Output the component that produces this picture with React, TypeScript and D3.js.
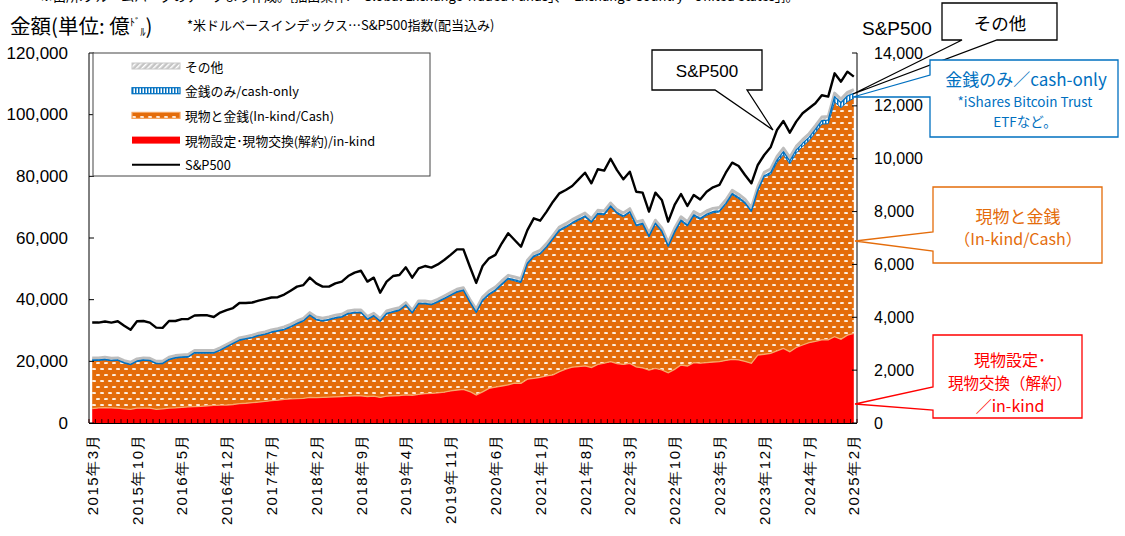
import React from "react";
import * as d3 from "d3";

// ---------- data (億ドル / S&P500 index) ----------
const xTickLabels = [
  "2015年3月", "2015年10月", "2016年5月", "2016年12月", "2017年7月", "2018年2月",
  "2018年9月", "2019年4月", "2019年11月", "2020年6月", "2021年1月", "2021年8月",
  "2022年3月", "2022年10月", "2023年5月", "2023年12月", "2024年7月", "2025年2月",
];
const leftTicks = [0, 20000, 40000, 60000, 80000, 100000, 120000];
const rightTicks = [0, 2000, 4000, 6000, 8000, 10000, 12000, 14000];

const inKind = [
  4650, 4900, 4975, 4900, 4800, 4600, 4430, 4800, 4850, 4800,
  4430, 4600, 4850, 4900, 5100, 5200, 5300, 5400, 5600, 5700,
  5800, 5840, 6000, 6300, 6400, 6600, 6800, 7000, 7240, 7400,
  7700, 7800, 7900, 8000, 8300, 8200, 8300, 8400, 8500, 8600,
  8700, 8800, 8800, 8600, 8700, 8300, 8700, 8800, 8900, 9100,
  9000, 9300, 9500, 9600, 9800, 10000, 10400, 10700, 10900, 10200,
  9100, 10100, 11240, 11600, 12000, 12400, 12900, 12900, 14200, 14500,
  14800, 15300, 15600, 16650, 17500, 18100, 18300, 18500, 18000, 19000,
  19400, 19900, 19300, 19000, 19350, 18200, 17900, 17200, 17700, 17200,
  16300, 17400, 18800, 18500, 19570, 19400, 19600, 19780, 19900, 20300,
  20650, 20500, 20000, 19350, 22050, 22300, 22600, 23400, 24210, 23130,
  24500, 25300, 26050, 26500, 27000, 27000, 28000, 27130, 28500, 29080,
];
const inKindCash = [
  15630, 15380, 15525, 15270, 15480, 14820, 14450, 15160, 15430, 15370,
  14770, 14600, 15650, 16140, 16150, 16160, 17360, 17260, 17060, 16960,
  17720, 18760, 19690, 20470, 20800, 21030, 21480, 21710, 22120, 22390,
  22500, 23240, 24220, 24990, 26520, 25220, 24690, 25020, 25460, 25680,
  26670, 26890, 26890, 24930, 25910, 24580, 26670, 27110, 27550, 28970,
  26580, 29310, 29100, 28700, 29350, 30230, 30910, 31690, 32030, 28950,
  26600, 29490, 30300, 31230, 32780, 34220, 33180, 32640, 37300, 39360,
  39920, 41590, 43990, 45640, 45870, 46570, 47450, 48330, 46990, 48700,
  48080, 50170, 48610, 47830, 48890, 45710, 46550, 43140, 46800, 44800,
  40850, 44300, 46650, 45350, 47580, 46620, 47750, 48410, 48550, 50590,
  53400, 52250, 51150, 49100, 53160, 57550, 57980, 61090, 62780, 60940,
  63030, 64400, 65540, 67690, 69950, 70060, 76130, 75150, 75750, 76230,
];
const cashOnly = [
  150, 150, 150, 150, 150, 150, 150, 150, 150, 150,
  150, 150, 150, 150, 150, 150, 150, 150, 150, 150,
  150, 150, 150, 150, 150, 150, 150, 150, 150, 150,
  200, 200, 200, 200, 200, 200, 200, 200, 200, 200,
  200, 200, 200, 200, 200, 200, 200, 200, 200, 200,
  200, 200, 200, 200, 200, 200, 200, 200, 200, 200,
  300, 300, 300, 300, 300, 300, 300, 300, 300, 300,
  300, 300, 300, 300, 300, 300, 300, 300, 300, 300,
  300, 300, 300, 300, 300, 300, 300, 300, 300, 300,
  350, 350, 350, 350, 350, 350, 350, 350, 350, 350,
  350, 350, 350, 350, 350, 350, 600, 800, 1000, 900,
  1000, 1000, 1050, 1050, 1100, 1200, 1700, 1600, 1800, 1600,
];
const others = [
  700, 700, 700, 700, 700, 700, 700, 700, 700, 700,
  700, 700, 700, 700, 700, 700, 700, 700, 700, 700,
  700, 700, 700, 700, 700, 700, 700, 700, 700, 700,
  800, 800, 800, 800, 800, 800, 800, 800, 800, 800,
  800, 800, 800, 800, 800, 800, 800, 800, 800, 800,
  800, 800, 800, 800, 800, 800, 800, 800, 800, 800,
  1000, 1000, 1000, 1000, 1000, 1000, 1000, 1000, 1000, 1000,
  1000, 1000, 1000, 1000, 1000, 1000, 1000, 1000, 1000, 1000,
  1000, 1000, 1000, 1000, 1000, 1000, 1000, 1000, 1000, 1000,
  1100, 1100, 1100, 1100, 1100, 1100, 1100, 1100, 1100, 1100,
  1100, 1100, 1100, 1100, 1100, 1100, 1200, 1200, 1200, 1200,
  1200, 1200, 1200, 1200, 1200, 1200, 1200, 1200, 1200, 1200,
];
const sp500 = [
  3800, 3800, 3840, 3800, 3850, 3680, 3530, 3850, 3860, 3800,
  3610, 3600, 3860, 3860, 3930, 3935, 4070, 4075, 4075, 4010,
  4180, 4270, 4350, 4540, 4540, 4560, 4630, 4690, 4750, 4760,
  4860, 5007, 5160, 5220, 5500, 5285, 5160, 5160, 5285, 5350,
  5560, 5690, 5760, 5350, 5500, 4930, 5350, 5560, 5600, 5890,
  5500, 5850, 5940, 5880, 6000, 6170, 6360, 6570, 6570, 5920,
  5300, 5940, 6230, 6360, 6800, 7180, 6925, 6670, 7300, 7745,
  7656, 8000, 8375, 8690, 8817, 8968, 9220, 9470, 9070, 9600,
  9550, 10000, 9570, 9220, 9510, 8750, 8716, 8000, 8716, 8440,
  7620, 8250, 8665, 8210, 8630, 8460, 8750, 8920, 9006, 9470,
  9850, 9725, 9384, 9069, 9763, 10141, 10431, 11087, 11428, 10987,
  11403, 11718, 11907, 12096, 12400, 12350, 13231, 12916, 13294, 13105,
];

const JP = "'Noto Sans CJK JP', 'Noto Sans', sans-serif";
const LAT = "'Liberation Sans', Arial, sans-serif";
const BLUE = "#0070C0";
const ORANGE = "#E46C0A";
const RED = "#FF0000";

export default function App() {
  const n = sp500.length;
  const L = 89, R = 857, T = 53, B = 423;
  const idx = d3.range(n);
  const x = d3.scalePoint<number>().domain(idx).range([L, R]).padding(0.5);
  const yL = d3.scaleLinear().domain([0, 120000]).range([B, T]);
  const yR = d3.scaleLinear().domain([0, 14000]).range([B, T]);

  const rows = idx.map((i) => ({
    i,
    inKind: inKind[i],
    inKindCash: inKindCash[i],
    cashOnly: cashOnly[i],
    others: others[i],
  }));
  const keys = ["inKind", "inKindCash", "cashOnly", "others"];
  const stacked = d3.stack<any>().keys(keys)(rows);

  const area = d3
    .area<any>()
    .x((d) => x(d.data.i) as number)
    .y0((d) => yL(d[0]))
    .y1((d) => yL(d[1]));
  const topLine = d3
    .line<any>()
    .x((d) => x(d.data.i) as number)
    .y((d) => yL(d[1]));
  const spLine = d3
    .line<number>()
    .x((_, i) => x(i) as number)
    .y((d) => yR(d));

  const bw = (R - L) / n;
  const catTicks = d3.range(n + 1).map((k) => L + k * bw);
  const labelIdx = xTickLabels.map((_, k) => k * 7);

  const legendItems = [
    { label: "その他", kind: "other" },
    { label: "金銭のみ/cash-only", kind: "cash" },
    { label: "現物と金銭(In-kind/Cash)", kind: "orange" },
    { label: "現物設定･現物交換(解約)/in-kind", kind: "red" },
    { label: "S&P500", kind: "line" },
  ];

  return (
    <svg
      width={1125}
      height={536}
      style={{ position: "absolute", left: 0, top: 0, background: "#fff" }}
    >
      <defs>
        <pattern id="pOrange" width="8" height="12" patternUnits="userSpaceOnUse">
          <rect width="8" height="12" fill={ORANGE} />
          <ellipse cx="2" cy="3" rx="2.2" ry="1.1" fill="#FFF4EA" />
          <ellipse cx="6" cy="9" rx="2.2" ry="1.1" fill="#FFF4EA" />
        </pattern>
        <pattern id="pCash" width="3" height="4" patternUnits="userSpaceOnUse">
          <rect width="3" height="4" fill="#fff" />
          <rect width="1.5" height="4" fill={BLUE} />
        </pattern>
        <pattern
          id="pOther"
          width="4"
          height="4"
          patternUnits="userSpaceOnUse"
          patternTransform="rotate(45)"
        >
          <rect width="4" height="4" fill="#C4C4C4" />
          <rect width="1.5" height="4" fill="#fff" />
        </pattern>
      </defs>

      {/* cut-off source line at the very top (partly outside, as in the reference) */}
      <text x={40} y={1} fontSize={13} fontFamily={JP} fill="#000">
        ※出所:ブルームバーグのデータより作成。[抽出条件:「Global Exchange Traded Funds」、「Exchange Country - United States」]。
      </text>

      {/* title */}
      <text x={10} y={34} fontSize={20.5} fontFamily={JP} fill="#000">
        金額(単位: 億
        <tspan fontSize={10.5} dy={-8}>ﾄﾞ</tspan>
        <tspan fontSize={10.5} dy={10}>ﾙ</tspan>
        <tspan fontSize={20.5} dy={-2}>)</tspan>
      </text>
      <text x={187} y={30} fontSize={13} fontFamily={JP} fill="#000">
        *米ドルベースインデックス…S&amp;P500指数(配当込み)
      </text>
      <text x={862} y={35} fontSize={19} fontFamily={LAT} fill="#000">
        S&amp;P500
      </text>

      {/* areas */}
      <path d={area(stacked[0] as any) || ""} fill={RED} />
      <path d={area(stacked[1] as any) || ""} fill="url(#pOrange)" />
      <path d={area(stacked[2] as any) || ""} fill="url(#pCash)" />
      <path d={area(stacked[3] as any) || ""} fill="url(#pOther)" />
      <path d={topLine(stacked[0] as any) || ""} fill="none" stroke="#F7A868" strokeWidth={1.3} />
      <path d={topLine(stacked[3] as any) || ""} fill="none" stroke="#BDBDBD" strokeWidth={2.8} strokeLinejoin="round" />
      <path d={topLine(stacked[1] as any) || ""} fill="none" stroke={BLUE} strokeWidth={1} />
      <path d={topLine(stacked[2] as any) || ""} fill="none" stroke={BLUE} strokeWidth={1.3} strokeLinejoin="round" />

      {/* S&P500 line */}
      <path d={spLine(sp500) || ""} fill="none" stroke="#000" strokeWidth={2.4} strokeLinejoin="round" />

      {/* axes */}
      <line x1={L} x2={L} y1={T} y2={B} stroke="#000" strokeWidth={1} />
      <line x1={R} x2={R} y1={T} y2={B} stroke="#000" strokeWidth={1} />
      <line x1={L} x2={R} y1={B + 0.5} y2={B + 0.5} stroke="#000" strokeWidth={1} />
      {catTicks.map((cx, k) => (
        <line key={"ct" + k} x1={cx} x2={cx} y1={B} y2={B - 4} stroke="#3a0000" strokeWidth={1} />
      ))}
      {leftTicks.map((v) => (
        <g key={"l" + v}>
          <line x1={L} x2={L + 5} y1={yL(v)} y2={yL(v)} stroke="#000" />
          <text
            x={68}
            y={yL(v)}
            textAnchor="end"
            dominantBaseline="central"
            fontSize={17}
            fontFamily={LAT}
            fill="#000"
          >
            {d3.format(",")(v)}
          </text>
        </g>
      ))}
      {rightTicks.map((v) => (
        <g key={"r" + v}>
          <line x1={R - 5} x2={R} y1={yR(v)} y2={yR(v)} stroke="#000" />
          <text
            x={874}
            y={yR(v)}
            dominantBaseline="central"
            fontSize={16}
            fontFamily={LAT}
            fill="#000"
          >
            {d3.format(",")(v)}
          </text>
        </g>
      ))}
      {xTickLabels.map((lab, k) => (
        <text
          key={lab}
          transform={`translate(${x(labelIdx[k])},433) rotate(-90)`}
          textAnchor="end"
          dominantBaseline="central"
          fontSize={15}
          letterSpacing={1.5}
          fontFamily={LAT}
          fill="#000"
        >
          {lab}
        </text>
      ))}

      {/* legend */}
      <rect x={93} y={53} width={337} height={123} fill="#fff" stroke="#444" strokeWidth={1} />
      {legendItems.map((it, k) => {
        const cy = 66 + k * 24.7;
        return (
          <g key={it.kind}>
            {it.kind === "other" && (
              <rect x={132} y={cy - 3} width={48} height={6} fill="url(#pOther)" stroke="#C8C8C8" strokeWidth={1} />
            )}
            {it.kind === "cash" && (
              <rect x={132} y={cy - 3} width={48} height={6} fill="url(#pCash)" stroke={BLUE} strokeWidth={1.2} />
            )}
            {it.kind === "orange" && (
              <rect x={132} y={cy - 3} width={48} height={6} fill="url(#pOrange)" stroke="#F4A460" strokeWidth={1.2} />
            )}
            {it.kind === "red" && <rect x={132} y={cy - 3.5} width={48} height={7} fill={RED} />}
            {it.kind === "line" && (
              <line x1={132} x2={180} y1={cy} y2={cy} stroke="#000" strokeWidth={2} />
            )}
            <text x={185} y={cy} dominantBaseline="central" fontSize={12.8} fontFamily={JP} fill="#000">
              {it.label}
            </text>
          </g>
        );
      })}

      {/* callouts */}
      <path
        d="M652,50 H762 V90 H747 L773,130 L715,90 H652 Z"
        fill="#fff"
        stroke="#000"
        strokeWidth={1.3}
      />
      <text x={707} y={71} textAnchor="middle" dominantBaseline="central" fontSize={17} fontFamily={LAT}>
        S&amp;P500
      </text>

      <path
        d="M942,3 H1057 V40 H997 L853,94 L962,40 H942 Z"
        fill="#fff"
        stroke="#000"
        strokeWidth={1.3}
      />
      <text x={1000} y={22} textAnchor="middle" dominantBaseline="central" fontSize={17.5} fontFamily={JP}>
        その他
      </text>

      <path
        d="M930,60 H1118 V137 H930 V97 L853,97 L930,75 Z"
        fill="#fff"
        stroke={BLUE}
        strokeWidth={1.3}
      />
      <text x={1026} y={78} textAnchor="middle" dominantBaseline="central" fontSize={17} fontFamily={JP} fill={BLUE}>
        金銭のみ／cash-only
      </text>
      <text x={1025} y={101} textAnchor="middle" dominantBaseline="central" fontSize={13.5} fontFamily={JP} fill={BLUE}>
        *iShares Bitcoin Trust
      </text>
      <text x={1025} y={121} textAnchor="middle" dominantBaseline="central" fontSize={13.5} fontFamily={JP} fill={BLUE}>
        ETFなど。
      </text>

      <path
        d="M933,187 H1102 V263 H933 V251 L855,241 L933,232 Z"
        fill="#fff"
        stroke={ORANGE}
        strokeWidth={1.3}
      />
      <text x={1018} y={215} textAnchor="middle" dominantBaseline="central" fontSize={17} fontFamily={JP} fill={ORANGE}>
        現物と金銭
      </text>
      <text x={1018} y={238} textAnchor="middle" dominantBaseline="central" fontSize={16} fontFamily={JP} fill={ORANGE}>
        （In-kind/Cash）
      </text>

      <path
        d="M933,335 H1082 V418 H933 V410 L855,404 L933,387 Z"
        fill="#fff"
        stroke={RED}
        strokeWidth={1.3}
      />
      <text x={1010} y={359} textAnchor="middle" dominantBaseline="central" fontSize={16} fontFamily={JP} fill={RED}>
        現物設定･
      </text>
      <text x={1010} y={382} textAnchor="middle" dominantBaseline="central" fontSize={15.5} fontFamily={JP} fill={RED}>
        現物交換（解約）
      </text>
      <text x={1010} y={405} textAnchor="middle" dominantBaseline="central" fontSize={16} fontFamily={JP} fill={RED}>
        ／in-kind
      </text>
    </svg>
  );
}
